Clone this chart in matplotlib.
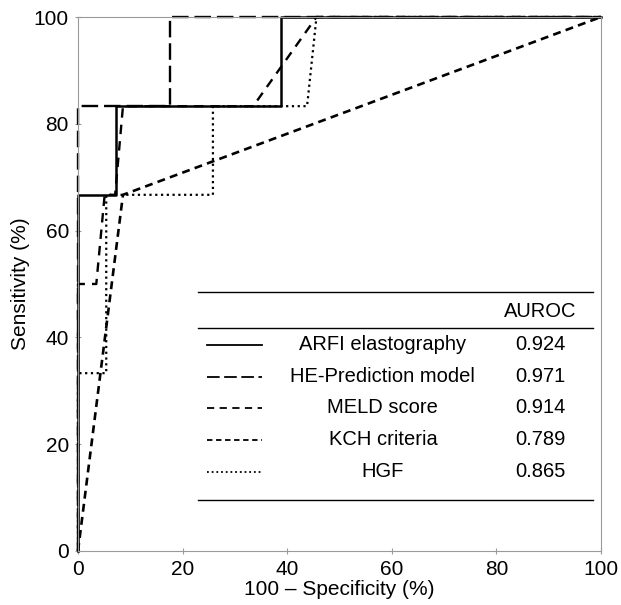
import matplotlib
matplotlib.use('Agg')
import matplotlib.pyplot as plt

plt.rcParams['font.family'] = ['Liberation Sans', 'DejaVu Sans']

# ROC curves: 100 - specificity (x) and sensitivity (y), in %
arfi_x = [0, 0, 7.2, 7.2, 38.8, 38.8, 100]
arfi_y = [0, 66.7, 66.7, 83.3, 83.3, 100, 100]

he_x = [0, 0, 17.6, 17.6, 100]
he_y = [0, 83.3, 83.3, 100, 100]

meld_x = [0, 0, 3.5, 5.1, 7.1, 8.6, 33.5, 45.6, 100]
meld_y = [0, 50, 50, 66.7, 66.7, 83.3, 83.3, 100, 100]

kch_x = [0, 8.6, 100]
kch_y = [0, 66.7, 100]

hgf_x = [0, 0, 5.4, 5.4, 25.8, 25.8, 43.8, 45.6, 100]
hgf_y = [0, 33.3, 33.3, 66.7, 66.7, 83.3, 83.3, 100, 100]

names = ["ARFI elastography", "HE-Prediction model", "MELD score",
         "KCH criteria", "HGF"]
auroc = ["0.924", "0.971", "0.914", "0.789", "0.865"]

styles = [
    dict(linestyle='-', linewidth=1.8),
    dict(linestyle=(0, (7, 2.5)), linewidth=1.7),
    dict(linestyle=(0, (4, 3)), linewidth=1.7),
    dict(linestyle=(0, (3, 2)), linewidth=1.9),
    dict(linestyle=(0, (1, 1.6)), linewidth=1.6),
]

fig = plt.figure(figsize=(6.21, 6.05), dpi=100)
ax = fig.add_axes([0.1256, 0.0893, 0.8422, 0.8826])

curves = [(arfi_x, arfi_y), (he_x, he_y), (meld_x, meld_y),
          (kch_x, kch_y), (hgf_x, hgf_y)]
for (xs, ys), st in zip(curves, styles):
    ax.plot(xs, ys, color='black', clip_on=False, **st)

ax.set_xlim(0, 100)
ax.set_ylim(0, 100)
ax.set_xticks(range(0, 101, 20))
ax.set_yticks(range(0, 101, 20))
for s in ax.spines.values():
    s.set_color('#9a9a9a')
    s.set_linewidth(0.8)
ax.tick_params(direction='inout', length=5, width=0.8, color='#9a9a9a',
               labelsize=15, pad=4)
ax.set_xlabel("100 \u2013 Specificity (%)", fontsize=15, labelpad=1)
ax.set_ylabel("Sensitivity (%)", fontsize=15, labelpad=3)

# table-like legend
tr = ax.transAxes
ax.plot([0.229, 0.985], [0.485, 0.485], color='black', lw=1.0, transform=tr)
ax.plot([0.229, 0.985], [0.4176, 0.4176], color='black', lw=1.0, transform=tr)
ax.plot([0.229, 0.985], [0.0955, 0.0955], color='black', lw=1.0, transform=tr)
ax.text(0.883, 0.4476, "AUROC", transform=tr, ha='center', va='center',
        fontsize=14.5)
row_y = [0.386, 0.326, 0.268, 0.208, 0.148]
for yy, nm, val, st in zip(row_y, names, auroc, styles):
    ax.plot([0.247, 0.352], [yy, yy], color='black', transform=tr,
            linestyle=st['linestyle'], linewidth=1.3)
    ax.text(0.583, yy, nm, transform=tr, ha='center', va='center',
            fontsize=14.5)
    ax.text(0.885, yy, val, transform=tr, ha='center', va='center',
            fontsize=14.5)

fig.savefig('out.png', dpi=100)
